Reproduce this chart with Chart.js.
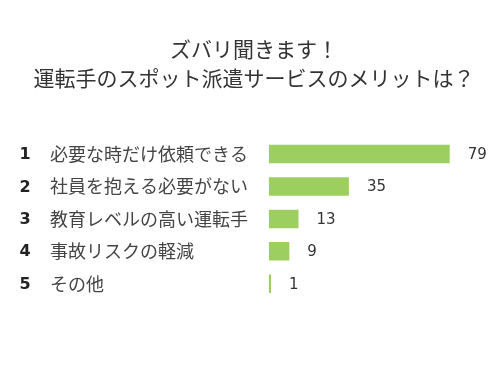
<!DOCTYPE html>
<html><head><meta charset="utf-8">
<script src="https://cdn.jsdelivr.net/npm/chart.js@4"></script>
<style>html,body{margin:0;padding:0;background:#fff;}#wrap{width:500px;height:370px;}</style>
</head><body><div id="wrap"><canvas id="c" width="500" height="370"></canvas></div>
<script>
const titleLines = ['ズバリ聞きます！', '運転手のスポット派遣サービスのメリットは？'];
const ranks = ['1', '2', '3', '4', '5'];
const categories = ['必要な時だけ依頼できる', '社員を抱える必要がない', '教育レベルの高い運転手', '事故リスクの軽減', 'その他'];
const values = [79, 35, 13, 9, 1];

const labelPlugin = {
  id: 'labels',
  afterDatasetsDraw(chart) {
    const ctx = chart.ctx;
    const y = chart.scales.y;
    const meta = chart.getDatasetMeta(0);
    ctx.save();
    // title
    ctx.fillStyle = '#333';
    ctx.font = '21px "Noto Sans CJK JP", sans-serif';
    ctx.textAlign = 'center';
    ctx.textBaseline = 'middle';
    ctx.fillText(titleLines[0], 254, 49);
    ctx.fillText(titleLines[1], 254, 78);
    categories.forEach((cat, i) => {
      const py = y.getPixelForValue(i);
      ctx.fillStyle = '#222';
      ctx.font = 'bold 16px "DejaVu Sans", sans-serif';
      ctx.textAlign = 'center';
      ctx.fillText(ranks[i], 25, py + 1);
      ctx.fillStyle = '#444';
      ctx.font = '18px "Noto Sans CJK JP", sans-serif';
      ctx.textAlign = 'left';
      ctx.fillText(cat, 50, py);
      const bar = meta.data[i];
      ctx.fillStyle = '#333';
      ctx.font = '15px "DejaVu Sans", sans-serif';
      ctx.fillText(String(values[i]), bar.x + 18, py + 1);
    });
    ctx.restore();
  }
};

new Chart(document.getElementById('c'), {
  type: 'bar',
  data: {
    labels: categories,
    datasets: [{
      data: values,
      backgroundColor: (c) => {
        const el = c.element;
        if (!el || el.y === undefined) return '#9ccf5f';
        const g = c.chart.ctx.createLinearGradient(0, el.y - 9, 0, el.y + 9);
        g.addColorStop(0, '#a8d86c');
        g.addColorStop(0.5, '#9ccf5c');
        g.addColorStop(1, '#8fc24f');
        return g;
      },
      borderWidth: 0,
      categoryPercentage: 1,
      barPercentage: 0.57
    }]
  },
  options: {
    indexAxis: 'y',
    responsive: false,
    animation: false,
    layout: { padding: { left: 268.7, right: 48, top: 137.8, bottom: 70 } },
    scales: {
      x: { display: false, min: 0, max: 80 },
      y: { display: false }
    },
    plugins: {
      legend: { display: false },
      tooltip: { enabled: false },
      title: { display: false }
    }
  },
  plugins: [labelPlugin]
});
</script></body></html>
